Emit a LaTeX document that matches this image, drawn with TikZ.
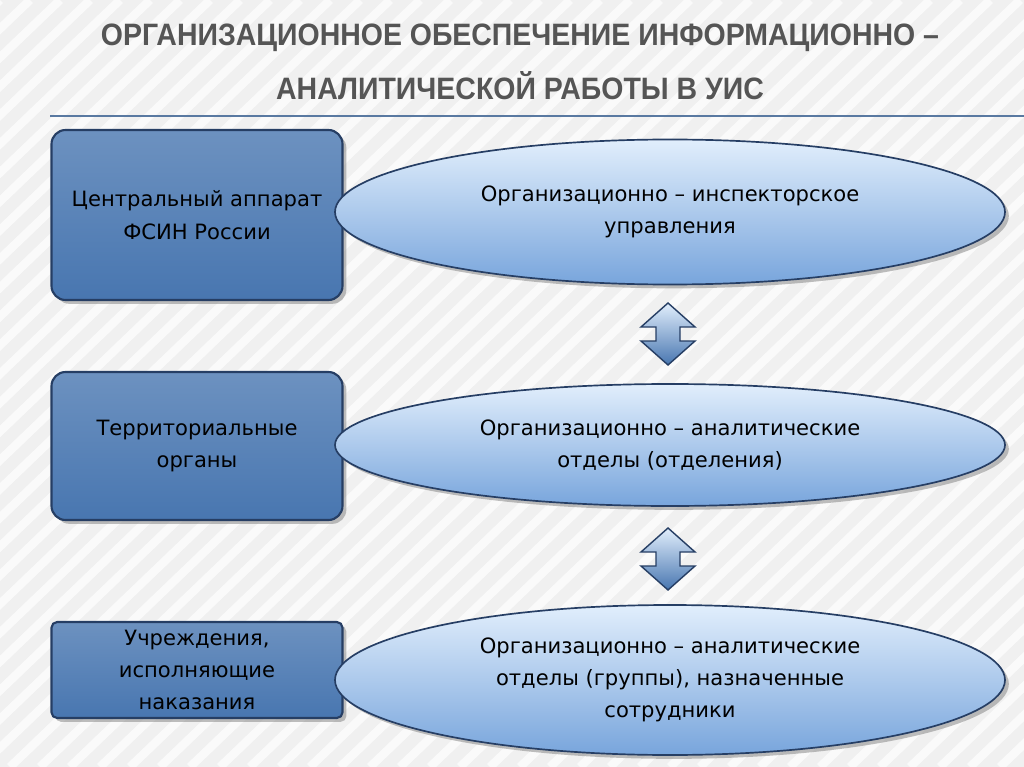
\documentclass[tikz,border=0pt]{standalone}
\usepackage{fontspec}
\setmainfont{DejaVu Sans}
\newfontfamily\titlefont{Liberation Sans}
\usetikzlibrary{shapes.geometric,shadows}
\definecolor{boxblue}{RGB}{72,118,176}
\definecolor{boxdark}{RGB}{38,62,100}
\definecolor{ellblue}{RGB}{120,165,220}
\definecolor{ellpale}{RGB}{225,238,252}
\definecolor{titlegray}{RGB}{85,85,85}
\tikzset{
  level/.style={rectangle, rounded corners=10pt, draw=boxdark, line width=1.5pt,
    top color=boxblue!80!white, bottom color=boxblue, align=center,
    font=\fontsize{15}{23}\selectfont, drop shadow},
  unit/.style={ellipse, draw=boxdark, line width=1.2pt, top color=ellpale,
    bottom color=ellblue, align=center, font=\fontsize{15}{23}\selectfont,
    drop shadow},
  link/.style={draw=boxdark, line width=1pt, top color=ellpale, bottom color=boxblue}
}
\newcommand\updown[1]{%
  \draw[link, shift={(#1)}] (0,-31) -- (27,-7) -- (12,-7) -- (12,7) -- (27,7)
    -- (0,31) -- (-27,7) -- (-12,7) -- (-12,-7) -- (-27,-7) -- cycle;}
\begin{document}
\begin{tikzpicture}[x=0.025cm,y=-0.025cm]
\useasboundingbox (0,0) rectangle (1024,767);
\begin{scope}
\clip (0,0) rectangle (1024,767);
\fill[gray!12] (0,0) rectangle (1024,767);
\foreach \i in {0,30,...,1800}
  \draw[white, line width=6pt, opacity=0.7] (\i-800,767) -- (\i,0);
\end{scope}
% title
\node[font=\titlefont\bfseries\fontsize{22}{38}\selectfont, text=titlegray, align=center,
  xscale=0.92] (title) at (520,62) {ОРГАНИЗАЦИОННОЕ ОБЕСПЕЧЕНИЕ ИНФОРМАЦИОННО –\\АНАЛИТИЧЕСКОЙ РАБОТЫ В УИС};
\coordinate (rs) at (50,116);
\coordinate (re) at (1024,116);
\draw[boxblue!70!gray, line width=1.2pt] (rs) -- (re);
% levels
\node[level, minimum width=291*0.025cm, minimum height=170*0.025cm] (central) at (197,215)
  {Центральный аппарат\\ФСИН России};
\node[level, minimum width=291*0.025cm, minimum height=148*0.025cm] (terr) at (197,446)
  {Территориальные\\органы};
\node[level, minimum width=291*0.025cm, minimum height=96*0.025cm, rounded corners=4pt] (inst) at (197,670)
  {Учреждения,\\исполняющие\\наказания};
% units
\node[unit, minimum width=670*0.025cm, minimum height=145*0.025cm] (insp) at (670,212)
  {Организационно – инспекторское\\управления};
\node[unit, minimum width=670*0.025cm, minimum height=122*0.025cm] (anal) at (670,445)
  {Организационно – аналитические\\отделы (отделения)};
\node[unit, minimum width=670*0.025cm, minimum height=150*0.025cm] (grp) at (670,680)
  {Организационно – аналитические\\отделы (группы), назначенные\\сотрудники};
% links
\coordinate (l1) at (668,334);
\coordinate (l2) at (668,559);
\updown{l1}
\updown{l2}
\end{tikzpicture}
\end{document}
